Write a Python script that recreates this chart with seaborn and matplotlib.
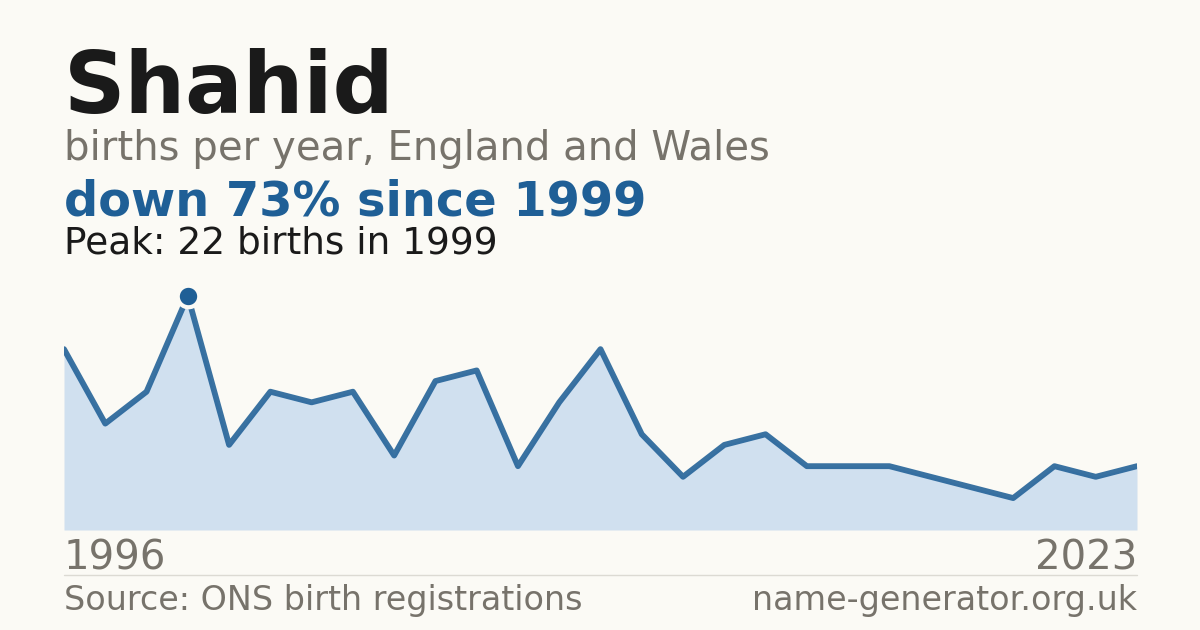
import pandas as pd
import matplotlib.pyplot as plt
import seaborn as sns

# births per year for the name; one year is absent from the series,
# points are placed one after another (evenly spaced)
years = [1996, 1997, 1998, 1999, 2000, 2001, 2002, 2003, 2004, 2005, 2006,
         2007, 2008, 2009, 2010, 2011, 2012, 2013, 2014, 2015, 2016,
         2017, 2018, 2020, 2021, 2022, 2023]
births = [17, 10, 13, 22, 8, 13, 12, 13, 7, 14, 15,
          6, 12, 17, 9, 5, 8, 9, 6, 6, 6,
          5, 4, 3, 6, 5, 6]

df = pd.DataFrame({"year": years, "births": births})
df["pos"] = range(len(df))
peak = df.loc[df["births"].idxmax()]

bg = "#fbfaf5"
blue = "#1f5f96"
fill = "#d0e0ef"
grey = "#77736b"

sns.set_style("white")
plt.rcParams["font.family"] = ["DejaVu Sans"]

fig = plt.figure(figsize=(12, 6.3), dpi=100, facecolor=bg)
ax = fig.add_axes([64 / 1200, 1 - 530 / 630, (1137 - 64) / 1200, 250 / 630])
ax.set_facecolor(bg)

ax.fill_between(df["pos"], df["births"], 0, color=fill, lw=0)
sns.lineplot(data=df, x="pos", y="births", ax=ax, color=blue, lw=4.2,
             alpha=0.88)
ax.scatter([peak["pos"]], [peak["births"]], s=240, color=blue,
           edgecolor=bg, linewidth=3, zorder=5)

ax.set_xlim(0, len(df) - 1)
ax.set_ylim(0, 23.5)
ax.axis("off")

fig.text(64 / 1200, 1 - 113 / 630, "Shahid", fontsize=61.5, fontweight="bold",
         color="#1a1a1a", va="baseline")
fig.text(64 / 1200, 1 - 160 / 630, "births per year, England and Wales",
         fontsize=29, color=grey, va="baseline")
fig.text(64 / 1200, 1 - 215 / 630, "down 73% since 1999", fontsize=34.5,
         fontweight="bold", color=blue, va="baseline")
fig.text(64 / 1200, 1 - 254 / 630, "Peak: 22 births in 1999", fontsize=27,
         color="#1a1a1a", va="baseline")

fig.text(64 / 1200, 1 - 570 / 630, str(years[0]), fontsize=29, color=grey,
         va="baseline")
fig.text(1137 / 1200, 1 - 570 / 630, str(years[-1]), fontsize=29, color=grey,
         va="baseline", ha="right")

fig.add_artist(plt.Line2D([64 / 1200, 1137 / 1200], [1 - 575 / 630] * 2,
                          color="#dcdad3", lw=1))

fig.text(64 / 1200, 1 - 610 / 630, "Source: ONS birth registrations",
         fontsize=24, color=grey, va="baseline")
fig.text(1137 / 1200, 1 - 610 / 630, "name-generator.org.uk", fontsize=24,
         color=grey, va="baseline", ha="right")

fig.savefig("out.png", dpi=100, facecolor=bg)
